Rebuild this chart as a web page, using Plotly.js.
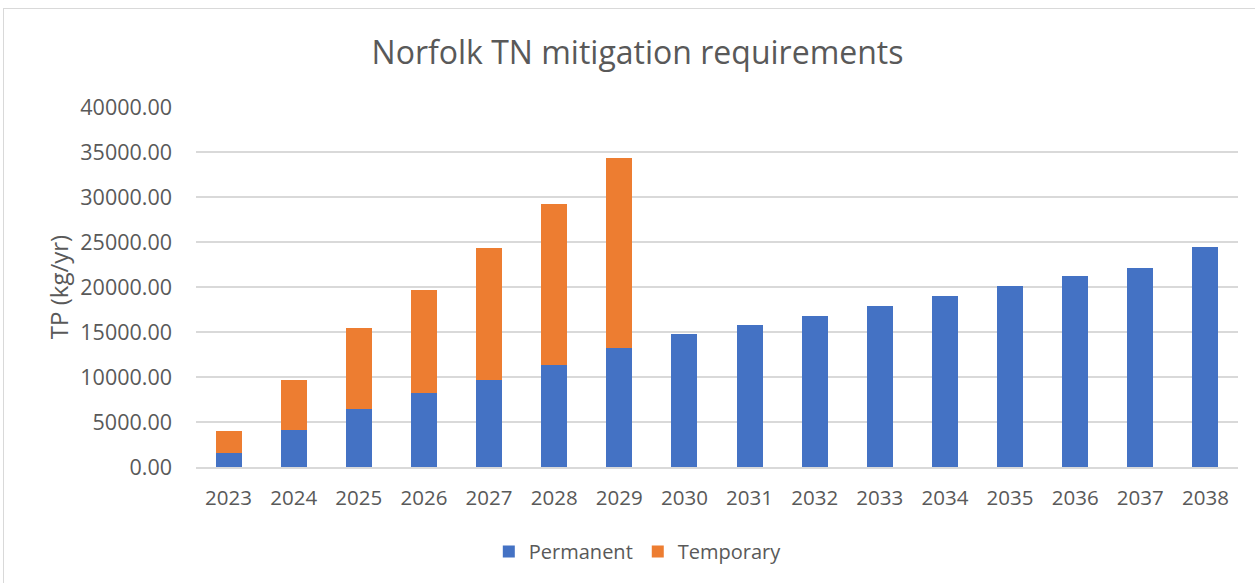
<!DOCTYPE html>
<html>
<head>
<meta charset="utf-8">
<script src="https://cdn.plot.ly/plotly-3.0.1.min.js"></script>
<style>
  html, body { margin: 0; padding: 0; background: #ffffff; }
  #wrap { position: relative; width: 1255px; height: 583px; overflow: hidden; }
  #chart { position: absolute; left: 0; top: 0; width: 1255px; height: 583px; }
  #frame { position: absolute; left: 3px; top: 8px; width: 1260px; height: 590px; border: 1px solid #d9d9d9; pointer-events: none; }
</style>
</head>
<body>
<div id="wrap">
  <div id="chart"></div>
  <div id="frame"></div>
</div>
<script>
const years = ['2023','2024','2025','2026','2027','2028','2029','2030','2031','2032','2033','2034','2035','2036','2037','2038'];
const permanent = [1560, 4110, 6480, 8220, 9670, 11370, 13190, 14740, 15780, 16810, 17850, 19040, 20150, 21190, 22070, 24440];
const temporary = [2480, 5590, 8960, 11480, 14700, 17850, 21110, 0, 0, 0, 0, 0, 0, 0, 0, 0];
const yTicks = [0, 5000, 10000, 15000, 20000, 25000, 30000, 35000, 40000];

const fontFam = '"Open Sans", "DejaVu Sans", sans-serif';
const grey = '#595959';

const traces = [
  { type: 'bar', name: 'Permanent', x: years, y: permanent, marker: { color: '#4472C4' }, hoverinfo: 'x+y+name' },
  { type: 'bar', name: 'Temporary', x: years, y: temporary, marker: { color: '#ED7D31' }, hoverinfo: 'x+y+name' }
];

const layout = {
  width: 1255, height: 583,
  paper_bgcolor: '#ffffff', plot_bgcolor: '#ffffff',
  margin: { l: 196, r: 17, t: 107, b: 116 },
  barmode: 'stack',
  bargap: 0.6,
  font: { family: fontFam, color: grey, size: 20 },
  title: {
    text: 'Norfolk TN mitigation requirements',
    font: { family: fontFam, size: 32, color: grey },
    x: 0.508, xref: 'container', xanchor: 'center',
    y: 0.91, yref: 'container', yanchor: 'middle'
  },
  xaxis: {
    type: 'category',
    tickfont: { size: 20.5, color: grey },
    showgrid: false,
    showline: true, linecolor: '#d9d9d9', linewidth: 1.5,
    ticks: '', ticklabelstandoff: 12,
    fixedrange: true
  },
  yaxis: {
    range: [0, 40000],
    tickvals: yTicks,
    tickformat: '.2f',
    tickfont: { size: 21.5, color: grey },
    showgrid: true, gridcolor: '#d9d9d9', gridwidth: 1.5,
    zeroline: false,
    ticks: '', ticklabelstandoff: 23,
    title: { text: 'TP (kg/yr)', font: { size: 24, color: grey }, standoff: 4 },
    fixedrange: true
  },
  showlegend: true,
  legend: {
    orientation: 'h',
    x: 0.424, xanchor: 'center',
    y: -0.235, yanchor: 'middle',
    font: { size: 20, color: grey },
    itemwidth: 30,
    traceorder: 'normal'
  }
};

Plotly.newPlot('chart', traces, layout, { displayModeBar: false, staticPlot: false });
</script>
</body>
</html>
